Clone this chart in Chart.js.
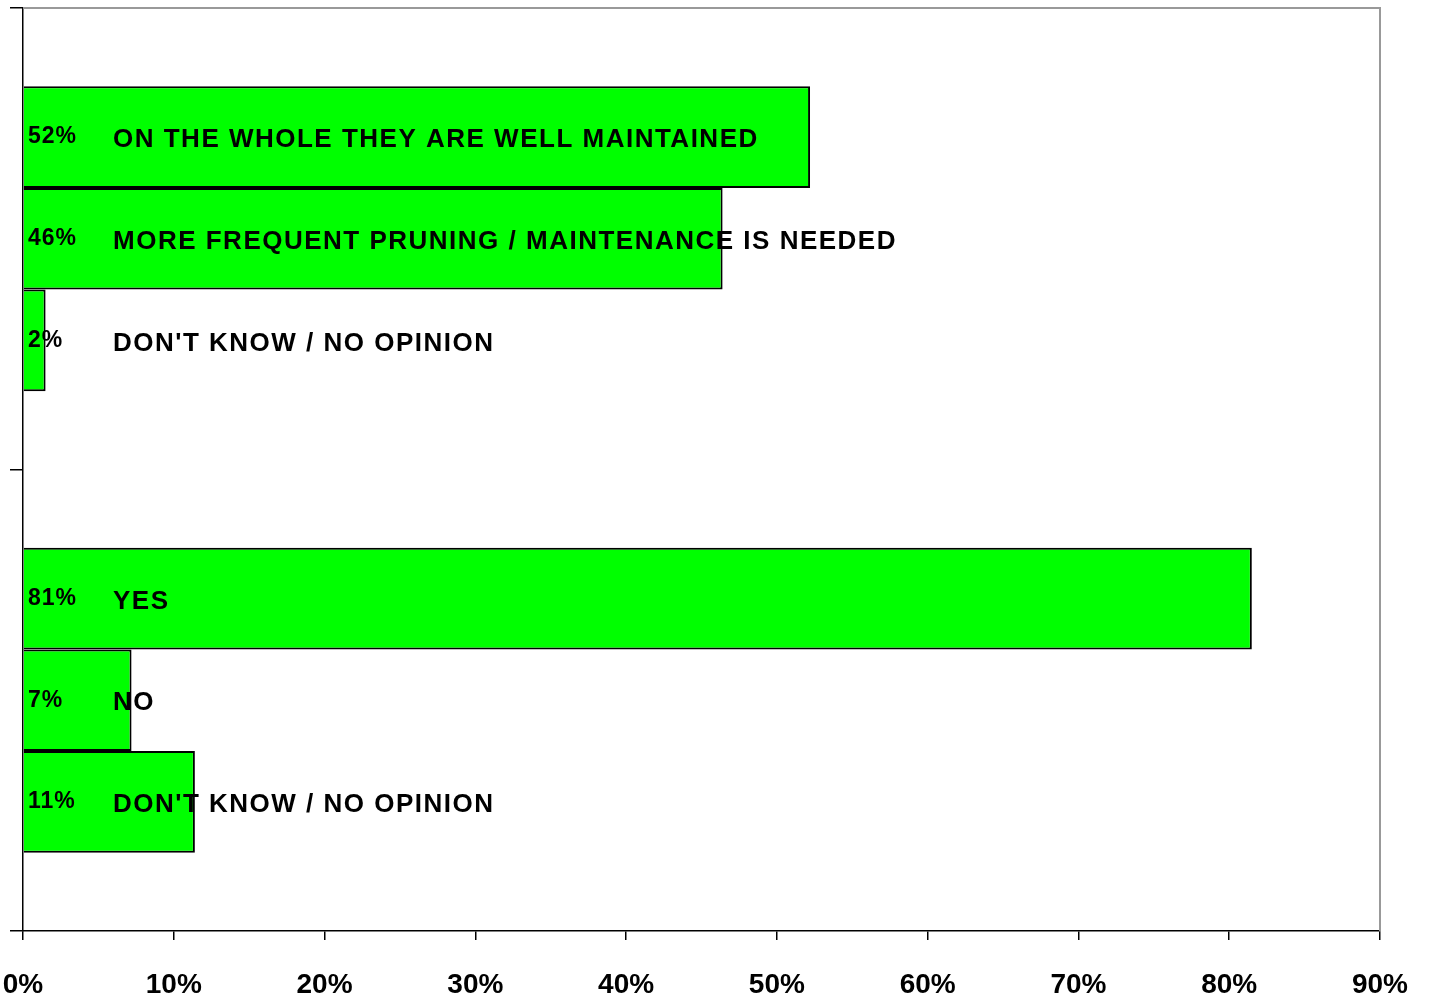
<!DOCTYPE html>
<html>
<head>
<meta charset="utf-8">
<script src="https://cdn.jsdelivr.net/npm/chart.js@4/dist/chart.umd.min.js"></script>
<style>
  body { margin: 0; background: #fff; }
  canvas { display: block; }
</style>
</head>
<body>
<canvas id="chart" width="1429" height="999"></canvas>
<script>
// two questions, three answers each (top bar first)
const questions = ['Q1', 'Q2'];
const firstAnswer = [52.2, 81.5];
const secondAnswer = [46.4, 7.2];
const thirdAnswer = [1.5, 11.4];
const percentLabels = [['52%', '46%', '2%'], ['81%', '7%', '11%']];
const answerLabels = [
  ['ON THE WHOLE THEY ARE WELL MAINTAINED', 'MORE FREQUENT PRUNING / MAINTENANCE IS NEEDED', "DON'T KNOW / NO OPINION"],
  ['YES', 'NO', "DON'T KNOW / NO OPINION"]
];
const xTicks = [0, 10, 20, 30, 40, 50, 60, 70, 80, 90];

const FONT = '"Liberation Sans", Arial, sans-serif';
const GREEN = '#00ff00';

// draws the text on the bars and the grey frame
const barText = {
  id: 'barText',
  afterDatasetsDraw(chart) {
    const ctx = chart.ctx;
    const area = chart.chartArea;
    ctx.save();
    ctx.strokeStyle = '#999';
    ctx.lineWidth = 2;
    ctx.beginPath();
    ctx.moveTo(area.left, area.top);
    ctx.lineTo(area.right, area.top);
    ctx.lineTo(area.right, area.bottom);
    ctx.stroke();

    ctx.fillStyle = '#000';
    ctx.textBaseline = 'middle';
    ctx.textAlign = 'left';
    chart.data.datasets.forEach((ds, d) => {
      const meta = chart.getDatasetMeta(d);
      meta.data.forEach((bar, i) => {
        ctx.font = 'bold 23px ' + FONT;
        ctx.letterSpacing = '1px';
        ctx.fillText(percentLabels[i][d], area.left + 5, bar.y);
        ctx.font = 'bold 26px ' + FONT;
        ctx.letterSpacing = '1.5px';
        ctx.fillText(answerLabels[i][d], area.left + 90, bar.y + 3);
      });
    });
    ctx.restore();
  }
};

const barStyle = {
  backgroundColor: GREEN,
  borderColor: '#000',
  borderWidth: 2,
  categoryPercentage: 0.661,
  barPercentage: 1
};

new Chart(document.getElementById('chart'), {
  type: 'bar',
  data: {
    labels: questions,
    datasets: [
      Object.assign({ data: firstAnswer }, barStyle),
      Object.assign({ data: secondAnswer }, barStyle),
      Object.assign({ data: thirdAnswer }, barStyle)
    ]
  },
  options: {
    indexAxis: 'y',
    responsive: false,
    animation: false,
    layout: {
      padding: { top: 8, right: 49, left: 0, bottom: 0 }
    },
    plugins: {
      legend: { display: false },
      tooltip: { enabled: false }
    },
    scales: {
      x: {
        min: 0,
        max: 90,
        afterBuildTicks: (scale) => {
          scale.ticks = xTicks.map(v => ({ value: v }));
        },
        afterFit: (scale) => {
          scale.height = 68;
          scale.paddingLeft = 0;
          scale.paddingRight = 0;
        },
        border: { color: '#000', width: 1.5 },
        grid: {
          drawOnChartArea: false,
          color: '#000',
          lineWidth: 1.5,
          tickLength: 9
        },
        ticks: {
          callback: (v) => v + '%',
          color: '#000',
          padding: 28,
          maxRotation: 0,
          font: { family: FONT, size: 28, weight: 'bold' }
        }
      },
      y: {
        afterFit: (scale) => { scale.width = 23; },
        border: { color: '#000', width: 1.5 },
        grid: {
          offset: true,
          drawOnChartArea: false,
          color: '#000',
          lineWidth: 1.5,
          tickLength: 13
        },
        ticks: { display: false }
      }
    }
  },
  plugins: [barText]
});
</script>
</body>
</html>
